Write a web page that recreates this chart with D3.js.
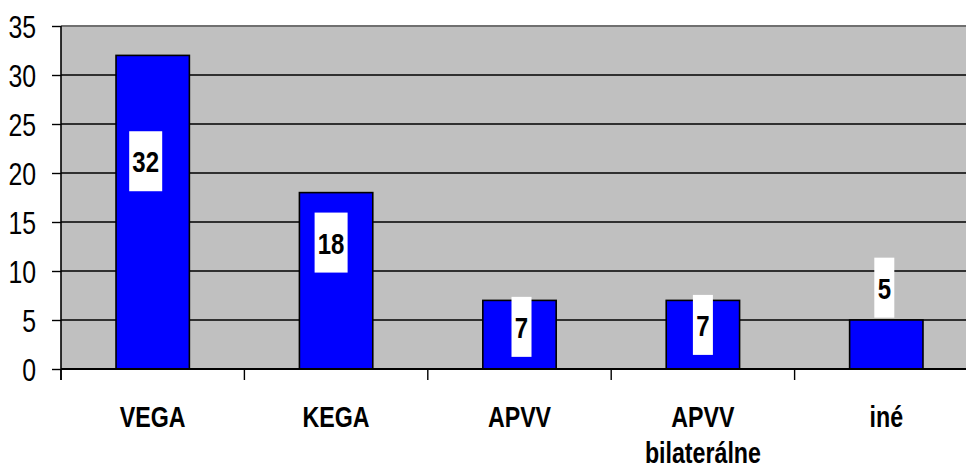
<!DOCTYPE html>
<html><head><meta charset="utf-8">
<script src="https://cdn.jsdelivr.net/npm/d3@7"></script>
<style>
html,body{margin:0;padding:0;background:#fff;}
svg{display:block;}
text{font-family:"Liberation Sans Narrow","Arial Narrow","Liberation Sans",Arial,sans-serif;}
</style></head>
<body>
<svg id="chart" width="966" height="470"></svg>
<script>
const categories = [["VEGA"], ["KEGA"], ["APVV"], ["APVV", "bilaterálne"], ["iné"]];
const values = [32, 18, 7, 7, 5];
const yTicks = [0, 5, 10, 15, 20, 25, 30, 35];
// data-label anchor (value units) and horizontal nudge, as placed in the original
const labelAt = [21.2, 12.9, 4.3, 4.5, 8.3];
const labelNudge = [-7, -5, 2, 0, -2];

const SX = 0.8; // horizontal condensing to mimic a narrow face

const svg = d3.select("#chart");
const L = 61, R = 978, T = 26, B = 369;

const x = d3.scaleBand().domain(d3.range(values.length)).range([L, R]).paddingInner(0.6).paddingOuter(0.3);
const y = d3.scaleLinear().domain([0, 35]).range([B, T]);

// plot background
svg.append("rect").attr("x", L).attr("y", T).attr("width", R - L).attr("height", B - T).attr("fill", "#c0c0c0");

// gridlines
svg.append("g").selectAll("line").data(yTicks.filter(d => d > 0 && d < 35)).join("line")
  .attr("x1", L).attr("x2", R).attr("y1", d => y(d)).attr("y2", d => y(d))
  .attr("stroke", "#000").attr("stroke-width", 1.3);
// top border
svg.append("line").attr("x1", L).attr("x2", R).attr("y1", T).attr("y2", T).attr("stroke", "#707070").attr("stroke-width", 2);

// bars
svg.append("g").selectAll("rect").data(values).join("rect")
  .attr("x", (d, i) => x(i)).attr("width", x.bandwidth())
  .attr("y", d => y(d)).attr("height", d => B - y(d))
  .attr("fill", "#0000ff").attr("stroke", "#000").attr("stroke-width", 1.6);

// y axis
const yAxis = d3.axisLeft(y).tickValues(yTicks).tickSize(9).tickPadding(16).tickFormat(d3.format("d"));
const gy = svg.append("g").attr("transform", `translate(${L},0)`).call(yAxis);
gy.select(".domain").attr("stroke", "#000").attr("stroke-width", 1.6).attr("d", `M0,${T}V${B + 11}`);
gy.selectAll(".tick line").attr("stroke", "#000").attr("stroke-width", 1.4);
gy.selectAll(".tick text").attr("fill", "#000").attr("font-size", 31)
  .attr("font-family", '"Liberation Sans Narrow","Arial Narrow","Liberation Sans",Arial,sans-serif')
  .attr("x", 0).attr("dy", "0.36em")
  .attr("transform", `translate(-25,0) scale(${SX},1)`);

// x axis
const xb = d3.scaleLinear().domain([0, values.length]).range([L, R]);
const gx = svg.append("g").attr("transform", `translate(0,${B})`);
gx.append("line").attr("x1", L).attr("x2", R).attr("y1", 0).attr("y2", 0).attr("stroke", "#000").attr("stroke-width", 2.2);
gx.selectAll("line.tk").data(d3.range(values.length + 1)).join("line").attr("class", "tk")
  .attr("x1", d => xb(d)).attr("x2", d => xb(d)).attr("y1", 0).attr("y2", 11)
  .attr("stroke", "#000").attr("stroke-width", 1.4);

// category labels
const cat = svg.append("g").selectAll("text").data(categories).join("text")
  .attr("transform", (d, i) => `translate(${x(i) + x.bandwidth() / 2},427) scale(${SX},1)`)
  .attr("text-anchor", "middle").attr("font-size", 29).attr("font-weight", "bold").attr("fill", "#000");
cat.each(function(d) {
  const t = d3.select(this);
  d.forEach((s, j) => t.append("tspan").attr("x", 0).attr("dy", j === 0 ? 0 : 36).text(s));
});

// data labels
const lab = svg.append("g").selectAll("g").data(values).join("g")
  .attr("transform", (d, i) => `translate(${x(i) + x.bandwidth() / 2 + labelNudge[i]},${y(labelAt[i])})`);
lab.append("rect")
  .attr("x", d => String(d).length > 1 ? -16.5 : -10).attr("width", d => String(d).length > 1 ? 33 : 20)
  .attr("y", -30).attr("height", 60).attr("fill", "#fff");
lab.append("text").attr("text-anchor", "middle").attr("transform", `translate(0,11) scale(${SX},1)`)
  .attr("font-size", 30).attr("font-weight", "bold").attr("fill", "#000").text(d => d);
</script>
</body></html>
